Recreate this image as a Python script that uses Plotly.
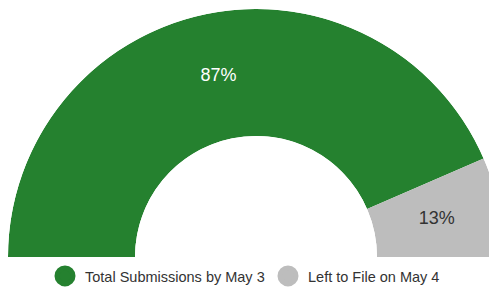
import plotly.graph_objects as go

categories = ["Total Submissions by May 3", "Left to File on May 4"]
values = [87, 13]
colors = ["#25812f", "#bdbdbd"]
label_colors = ["#ffffff", "#333333"]

total = sum(values)
widths = [v / total * 180 for v in values]
starts = [sum(widths[:i]) for i in range(len(widths))]
centers = [s + w / 2 for s, w in zip(starts, widths)]
labels = [f"{round(v / total * 100)}%" for v in values]

fig = go.Figure()

for cat, w, c, col in zip(categories, widths, centers, colors):
    fig.add_trace(go.Barpolar(
        r=[1], theta=[c], width=[w], base=0,
        marker=dict(color=col, line=dict(width=0)),
        showlegend=False, hoverinfo="skip", name=cat,
    ))

fig.add_trace(go.Scatterpolar(
    r=[0.5] * len(values), theta=centers, mode="text", text=labels,
    textfont=dict(family="Liberation Sans, Arial, sans-serif", size=18, color=label_colors),
    showlegend=False, hoverinfo="skip",
))

for cat, col in zip(categories, colors):
    fig.add_trace(go.Scatterpolar(
        r=[None], theta=[None], mode="markers", name=cat,
        marker=dict(color=col, size=16, symbol="circle", line=dict(color=col, width=5)),
    ))

fig.update_layout(
    width=497, height=287,
    margin=dict(l=0, r=1, t=1, b=36),
    paper_bgcolor="white",
    polar=dict(
        sector=[0, 180],
        hole=0.488,
        bgcolor="white",
        domain=dict(x=[0, 1], y=[0.008, 1]),
        radialaxis=dict(visible=False, range=[0, 1]),
        angularaxis=dict(visible=False, rotation=180, direction="clockwise"),
    ),
    legend=dict(
        orientation="h", x=0.0746, xanchor="left", y=-0.068, yanchor="middle",
        font=dict(family="Liberation Sans, Arial, sans-serif", size=14.5, color="#333333"),
        itemsizing="trace", entrywidth=178, entrywidthmode="pixels",
    ),
    font=dict(family="Liberation Sans, Arial, sans-serif"),
)

fig.write_html("out.html")
